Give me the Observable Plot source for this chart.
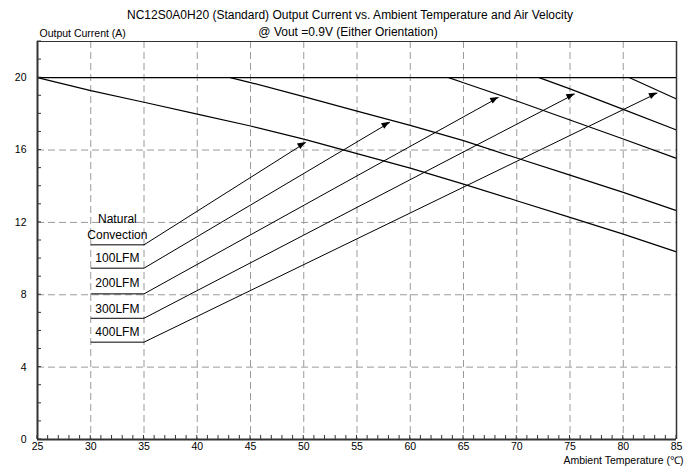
<!DOCTYPE html>
<html><head><meta charset="utf-8">
<script src="https://cdn.jsdelivr.net/npm/d3@7"></script>
<script src="https://cdn.jsdelivr.net/npm/@observablehq/plot@0.6"></script>
<style>body{margin:0;background:#fff;} svg{display:block;}</style>
</head><body><div id="chart"></div>
<script>
// ---- texts ----
const titleLine1 = "NC12S0A0H20 (Standard) Output Current vs. Ambient Temperature and Air Velocity";
const titleLine2 = "@ Vout =0.9V (Either Orientation)";
const yLabel = "Output Current (A)";
const xLabel = "Ambient Temperature (\u2103)";

// ---- derating curves (ambient temperature °C, output current A) ----
const seriesNames = ["Natural Convection", "100LFM", "200LFM", "300LFM", "400LFM"];
const natT = [25, 30, 35, 40, 45, 50, 55, 60, 65, 70, 75, 80, 85];
const natA = [20, 19.28, 18.64, 17.99, 17.33, 16.6, 15.8, 15.0, 14.12, 13.2, 12.28, 11.35, 10.37];
const lfm100T = [43.1, 45, 50, 55, 60, 65, 70, 75, 80, 85];
const lfm100A = [20, 19.73, 18.95, 18.15, 17.36, 16.52, 15.56, 14.61, 13.66, 12.65];
const lfm200T = [63.6, 65, 70, 75, 80, 85];
const lfm200A = [20, 19.72, 18.71, 17.66, 16.61, 15.54];
const lfm300T = [72.1, 75, 80, 85];
const lfm300A = [20, 19.38, 18.25, 17.11];
const lfm400T = [80.6, 85];
const lfm400A = [20, 18.82];
const ratedCurrent = [20];

// ---- annotations (labels with leader arrows) ----
const labelText = ["Natural\nConvection", "100LFM", "200LFM", "300LFM", "400LFM"];
const labelT = [32.5, 32.5, 32.5, 32.5, 32.5];
const labelA = [11.82, 10.11, 8.73, 7.28, 6.02];
const leaderStartT = [30, 30, 30, 30, 30];
const leaderKneeT = [35, 35, 35, 35, 35];
const leaderA = [10.76, 9.47, 8.05, 6.70, 5.38];
const tipT = [50.2, 58.1, 68.3, 75.45, 83.2];
const tipA = [16.42, 17.53, 18.91, 19.1, 19.15];

// ---- axes ----
const xDomain = [25, 85];
const yDomain = [0, 22];
const xTicks = [25, 30, 35, 40, 45, 50, 55, 60, 65, 70, 75, 80, 85];
const yTicks = [0, 4, 8, 12, 16, 20];
const gridX = [30, 35, 40, 45, 50, 55, 60, 65, 70, 75, 80];
const gridY = [4, 8, 12, 16];
const minorX = d3.range(25, 86, 1);
const minorY = d3.range(0, 23, 1);

// ---- build tables ----
const curveT = [natT, lfm100T, lfm200T, lfm300T, lfm400T];
const curveA = [natA, lfm100A, lfm200A, lfm300A, lfm400A];
const curves = seriesNames.flatMap((name, i) => curveT[i].map((t, j) => ({series: name, t, a: curveA[i][j]})));
const leaders = labelText.map((label, i) => ({
  label, t0: leaderStartT[i], t1: leaderKneeT[i], a: leaderA[i],
  tipT: tipT[i], tipA: tipA[i], labelT: labelT[i], labelA: labelA[i]
}));

// filled arrowheads, placed with the plot's scales
const arrowheads = (index, scales) => {
  const {x, y} = scales;
  const g = d3.create("svg:g").attr("fill", "#000");
  for (const d of leaders) {
    const x0 = x(d.t1), y0 = y(d.a), x1 = x(d.tipT), y1 = y(d.tipA);
    const ang = Math.atan2(y1 - y0, x1 - x0);
    const L = 8, W = 3.2;
    const bx = x1 - L * Math.cos(ang), by = y1 - L * Math.sin(ang);
    const px = -Math.sin(ang) * W, py = Math.cos(ang) * W;
    g.append("path").attr("d", `M${x1},${y1}L${bx + px},${by + py}L${bx - px},${by - py}Z`);
  }
  return g.node();
};

// inward minor ticks on left and bottom axes
const minorTicks = (index, scales) => {
  const {x, y} = scales;
  const g = d3.create("svg:g").attr("stroke", "#333").attr("stroke-width", 1);
  for (const t of minorX) g.append("line").attr("x1", x(t)).attr("x2", x(t)).attr("y1", y(yDomain[0])).attr("y2", y(yDomain[0]) - 4);
  for (const v of minorY) g.append("line").attr("x1", x(xDomain[0])).attr("x2", x(xDomain[0]) + 4).attr("y1", y(v)).attr("y2", y(v));
  return g.node();
};

const chart = Plot.plot({
  width: 696, height: 470,
  marginLeft: 37, marginRight: 20, marginTop: 41, marginBottom: 31,
  style: {fontFamily: "'Liberation Sans', Arial, sans-serif", background: "#fff", color: "#000"},
  x: {domain: xDomain},
  y: {domain: yDomain},
  marks: [
    Plot.ruleX(gridX, {stroke: "#9a9a9a", strokeDasharray: "7,4"}),
    Plot.ruleY(gridY, {stroke: "#9a9a9a", strokeDasharray: "7,4"}),
    Plot.ruleY(ratedCurrent, {stroke: "#000", strokeWidth: 1.2}),
    Plot.line(curves, {x: "t", y: "a", z: "series", stroke: "#000", strokeWidth: 1.2}),
    Plot.link(leaders, {x1: "t0", x2: "t1", y1: "a", y2: "a", stroke: "#000", strokeWidth: 1}),
    Plot.link(leaders, {x1: "t1", y1: "a", x2: "tipT", y2: "tipA", stroke: "#000", strokeWidth: 1}),
    arrowheads,
    Plot.text(leaders, {x: "labelT", y: "labelA", text: "label", fontSize: 12, lineHeight: 1.38, fill: "#000"}),
    Plot.ruleX([xDomain[1]], {stroke: "#333", strokeWidth: 1.5}),
    Plot.ruleY([yDomain[1]], {stroke: "#333", strokeWidth: 1}),
    Plot.ruleX([xDomain[0]], {stroke: "#333", strokeWidth: 2}),
    Plot.ruleY([yDomain[0]], {stroke: "#333", strokeWidth: 2}),
    minorTicks,
    Plot.axisX(xTicks, {tickSize: 0, tickPadding: 3, fontSize: 10.5, label: null}),
    Plot.axisY(yTicks, {tickSize: 0, tickPadding: 11, fontSize: 10.5, label: null}),
    Plot.text([titleLine1], {text: d => d, frameAnchor: "top", lineAnchor: "middle", dx: -7, dy: -26, fontSize: 12}),
    Plot.text([titleLine2], {text: d => d, frameAnchor: "top", lineAnchor: "middle", dx: -9, dy: -9, fontSize: 12}),
    Plot.text([yLabel], {text: d => d, frameAnchor: "top-left", lineAnchor: "middle", textAnchor: "start", dx: 2, dy: -8, fontSize: 10.5}),
    Plot.text([xLabel], {text: d => d, frameAnchor: "bottom-right", lineAnchor: "middle", textAnchor: "end", dx: 7, dy: 21, fontSize: 10.5})
  ]
});
document.getElementById("chart").append(chart);
</script>
</body></html>
